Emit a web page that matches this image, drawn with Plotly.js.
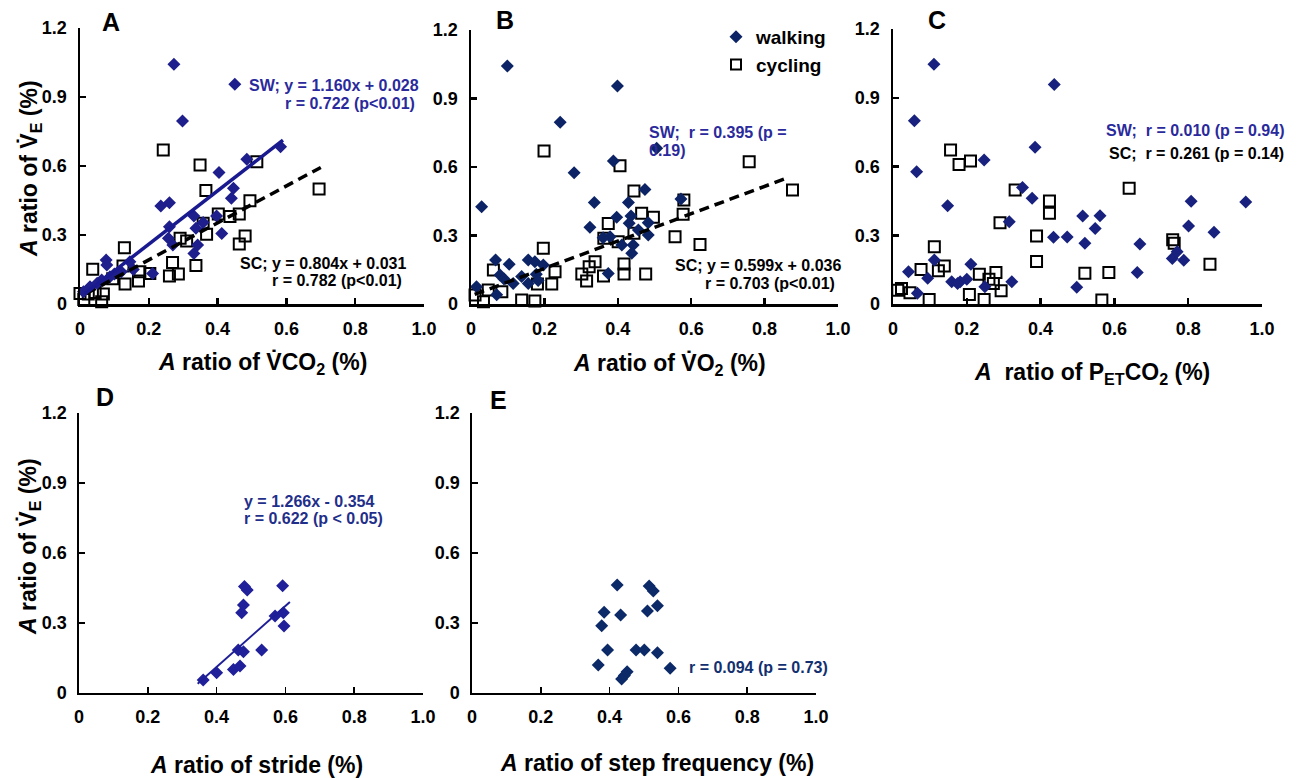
<!DOCTYPE html>
<html>
<head>
<meta charset="utf-8">
<script src="https://cdn.plot.ly/plotly-3.0.1.min.js"></script>
<style>html,body{margin:0;padding:0;background:#fff;}#chart{width:1302px;height:778px;}</style>
</head>
<body>
<div id="chart"></div>
<script>
// ---------- DATA ----------
const xTickVals = [0, 0.2, 0.4, 0.6, 0.8, 1.0];
const xTickText = ["0", "0.2", "0.4", "0.6", "0.8", "1.0"];
const yTickVals = [0, 0.3, 0.6, 0.9, 1.2];
const yTickText = ["0", "0.3", "0.6", "0.9", "1.2"];

// Panel A: A ratio of VCO2 vs A ratio of VE
const aWalkX = [0.273,0.298,0.45,0.583,0.485,0.404,0.446,0.44,0.235,0.26,0.26,0.257,0.27,0.331,0.337,0.342,0.331,0.397,0.412,0.358,0.076,0.078,0.145,0.155,0.211,0.063,0.087,0.029,0.01,0.1,0.12,0.05];
const aWalkY = [1.042,0.796,0.955,0.684,0.629,0.572,0.503,0.46,0.426,0.44,0.336,0.286,0.256,0.383,0.329,0.257,0.22,0.383,0.307,0.354,0.191,0.17,0.184,0.15,0.133,0.104,0.118,0.075,0.053,0.13,0.14,0.09];
const aCycX = [0.242,0.349,0.366,0.514,0.494,0.463,0.436,0.402,0.358,0.368,0.48,0.463,0.291,0.31,0.337,0.269,0.26,0.286,0.129,0.037,0.125,0.174,0.17,0.131,0.203,0.095,0.0,0.024,0.068,0.063,0.011,0.044,0.695];
const aCycY = [0.67,0.604,0.493,0.619,0.449,0.391,0.38,0.391,0.351,0.303,0.296,0.261,0.286,0.274,0.167,0.18,0.122,0.13,0.245,0.151,0.165,0.14,0.1,0.087,0.133,0.11,0.046,0.044,0.043,0.01,0.02,0.05,0.5];
const aFitSW = {slope: 1.160, intercept: 0.028, xFrom: 0.015, xTo: 0.59};
const aFitSC = {slope: 0.804, intercept: 0.031, xFrom: 0.02, xTo: 0.70};

// Panel B: A ratio of VO2
const bWalkX = [0.099,0.399,0.243,0.281,0.388,0.506,0.029,0.336,0.429,0.474,0.572,0.324,0.397,0.436,0.431,0.483,0.483,0.456,0.379,0.411,0.442,0.438,0.374,0.36,0.067,0.104,0.156,0.174,0.197,0.079,0.09,0.115,0.138,0.156,0.178,0.183,0.015,0.07];
const bWalkY = [1.042,0.955,0.796,0.575,0.626,0.682,0.426,0.444,0.445,0.502,0.46,0.336,0.38,0.385,0.354,0.356,0.302,0.324,0.295,0.258,0.258,0.222,0.134,0.29,0.193,0.174,0.193,0.185,0.171,0.127,0.11,0.09,0.12,0.09,0.13,0.103,0.076,0.04];
const bCycX = [0.199,0.406,0.758,0.876,0.444,0.58,0.578,0.465,0.497,0.374,0.444,0.556,0.624,0.362,0.401,0.197,0.338,0.322,0.302,0.315,0.361,0.417,0.417,0.476,0.061,0.229,0.22,0.138,0.174,0.181,0.011,0.034,0.047,0.084];
const bCycY = [0.67,0.606,0.623,0.499,0.495,0.455,0.393,0.397,0.38,0.353,0.31,0.295,0.261,0.288,0.273,0.244,0.185,0.163,0.131,0.101,0.123,0.175,0.131,0.131,0.149,0.141,0.088,0.018,0.013,0.088,0.039,0.01,0.061,0.054];
const bFitSC = {slope: 0.599, intercept: 0.036, xFrom: 0.01, xTo: 0.865};

// Panel C: A ratio of PETCO2
const cWalkX = [0.111,0.437,0.058,0.385,0.064,0.247,0.148,0.351,0.377,0.315,0.435,0.472,0.514,0.52,0.561,0.548,0.669,0.662,0.498,0.808,0.956,0.801,0.87,0.757,0.77,0.788,0.042,0.066,0.094,0.112,0.159,0.182,0.2,0.211,0.249,0.322,0.175];
const cWalkY = [1.046,0.958,0.8,0.684,0.577,0.628,0.429,0.508,0.461,0.359,0.291,0.292,0.384,0.265,0.385,0.329,0.262,0.138,0.073,0.448,0.445,0.34,0.313,0.199,0.228,0.191,0.141,0.047,0.112,0.192,0.097,0.097,0.108,0.173,0.075,0.097,0.09];
const cCycX = [0.156,0.179,0.21,0.331,0.424,0.424,0.29,0.389,0.389,0.112,0.076,0.139,0.123,0.023,0.046,0.013,0.098,0.207,0.234,0.247,0.279,0.26,0.272,0.293,0.64,0.758,0.762,0.859,0.52,0.585,0.566];
const cCycY = [0.672,0.609,0.624,0.497,0.449,0.396,0.355,0.297,0.185,0.25,0.151,0.166,0.145,0.068,0.049,0.06,0.02,0.042,0.13,0.02,0.137,0.108,0.09,0.058,0.505,0.28,0.265,0.173,0.134,0.137,0.017];

// Panel D: A ratio of stride (walking only)
const dWalkX = [0.481,0.489,0.592,0.478,0.473,0.57,0.594,0.596,0.463,0.478,0.531,0.449,0.468,0.4,0.361];
const dWalkY = [0.456,0.441,0.46,0.377,0.344,0.33,0.344,0.287,0.184,0.177,0.184,0.101,0.116,0.087,0.056];
const dFitX = [0.345, 0.613];
const dFitY = [0.04, 0.39];

// Panel E: A ratio of step frequency (walking only)
const eWalkX = [0.422,0.515,0.527,0.384,0.432,0.51,0.539,0.377,0.394,0.477,0.501,0.539,0.367,0.576,0.451,0.435,0.443];
const eWalkY = [0.463,0.459,0.437,0.346,0.334,0.351,0.374,0.288,0.184,0.184,0.184,0.173,0.12,0.106,0.091,0.06,0.075];

// ---------- STYLE ----------
const F = "Liberation Sans, Arial, Helvetica, sans-serif";
const W = 1302, H = 778;
const px = v => v / W;
const py = v => 1 - v / H;
const blueA = "#1e1e8c";
const navy = "#0c2466";
const blueC = "#18227e";
const blueD = "#20209a";
const navyE = "#0c2a68";
const txtBlue = "#2a2a9c";

function fitLine(f) {
  const xs = [f.xFrom, f.xTo];
  return {x: xs, y: xs.map(v => f.slope * v + f.intercept)};
}
function walk(x, y, xa, ya, color, size) {
  return {type: "scatter", mode: "markers", x: x, y: y, xaxis: xa, yaxis: ya,
    name: "walking", showlegend: false, cliponaxis: false,
    marker: {symbol: "diamond", size: size, color: color, line: {width: 0}}};
}
function cyc(x, y, xa, ya) {
  return {type: "scatter", mode: "markers", x: x, y: y, xaxis: xa, yaxis: ya,
    name: "cycling", showlegend: false, cliponaxis: false,
    marker: {symbol: "square-open", size: 11, color: "black", line: {width: 2, color: "black"}}};
}

const lA1 = fitLine(aFitSW), lA2 = fitLine(aFitSC), lB = fitLine(bFitSC);

const data = [
  // A
  cyc(aCycX, aCycY, "x", "y"),
  walk(aWalkX, aWalkY, "x", "y", blueA, 10),
  {type: "scatter", mode: "lines", x: lA2.x, y: lA2.y, xaxis: "x", yaxis: "y", showlegend: false,
   line: {color: "black", width: 3.5, dash: "10px,6px"}},
  {type: "scatter", mode: "lines", x: lA1.x, y: lA1.y, xaxis: "x", yaxis: "y", showlegend: false,
   line: {color: "#1a1a90", width: 3.5}},
  // B
  cyc(bCycX, bCycY, "x2", "y2"),
  walk(bWalkX, bWalkY, "x2", "y2", navy, 10),
  {type: "scatter", mode: "lines", x: lB.x, y: lB.y, xaxis: "x2", yaxis: "y2", showlegend: false,
   line: {color: "black", width: 3.5, dash: "10px,6px"}},
  // C
  cyc(cCycX, cCycY, "x3", "y3"),
  walk(cWalkX, cWalkY, "x3", "y3", blueC, 10),
  // D
  walk(dWalkX, dWalkY, "x4", "y4", blueD, 10),
  {type: "scatter", mode: "lines", x: dFitX, y: dFitY, xaxis: "x4", yaxis: "y4", showlegend: false,
   line: {color: "#1e1e96", width: 2}},
  // E
  walk(eWalkX, eWalkY, "x5", "y5", navyE, 10),
  // legend entries (drawn in panel B area)
  {type: "scatter", mode: "markers", x: [null], y: [null], xaxis: "x2", yaxis: "y2", name: "walking",
   showlegend: true, marker: {symbol: "diamond", size: 10, color: navy}},
  {type: "scatter", mode: "markers", x: [null], y: [null], xaxis: "x2", yaxis: "y2", name: "cycling",
   showlegend: true, marker: {symbol: "square-open", size: 10, color: "black", line: {width: 2, color: "black"}}}
];

function xax(d0, d1, lw, anchor) {
  return {domain: [px(d0), px(d1)], range: [0, 1], anchor: anchor, tickmode: "array",
    tickvals: xTickVals, ticktext: xTickText, showline: true, linewidth: lw, linecolor: "black",
    ticks: "inside", ticklen: 6, tickwidth: lw, tickcolor: "black", showgrid: false, zeroline: false,
    ticklabelstandoff: 7, fixedrange: true,
    tickfont: {family: F, size: 18, weight: "bold", color: "black"}};
}
function yax(top, bottom, lw, anchor) {
  return {domain: [py(bottom), py(top)], range: [0, 1.2], anchor: anchor, tickmode: "array",
    tickvals: yTickVals, ticktext: yTickText, showline: true, linewidth: lw, linecolor: "black",
    ticks: "inside", ticklen: 6, tickwidth: lw, tickcolor: "black", showgrid: false, zeroline: false,
    ticklabelstandoff: 7, fixedrange: true,
    tickfont: {family: F, size: 18, weight: "bold", color: "black"}};
}

function ann(text, x, y, opts) {
  return Object.assign({xref: "paper", yref: "paper", x: px(x), y: py(y), text: text, showarrow: false,
    xanchor: "left", yanchor: "middle",
    font: {family: F, size: 16, weight: "bold", color: "black"}}, opts || {});
}
const bigFont = {family: F, size: 23, weight: "bold", color: "black"};
const letterFont = {family: F, size: 25, weight: "bold", color: "black"};
const blueFont = {family: F, size: 16, weight: "bold", color: txtBlue};

const annotations = [
  // panel letters
  ann("A", 100, 22, {font: letterFont}),
  ann("B", 494, 20, {font: letterFont}),
  ann("C", 926, 20, {font: letterFont}),
  ann("D", 94, 397, {font: letterFont}),
  ann("E", 488, 400, {font: letterFont}),
  // axis titles
  ann("<i>A</i> ratio of V\u0307CO<sub>2</sub> (%)", 262, 363, {xanchor: "center", font: bigFont}),
  ann("<i>A</i> ratio of V\u0307O<sub>2</sub> (%)", 670, 365, {xanchor: "center", font: bigFont}),
  ann("<i>A</i>  ratio of P<sub>ET</sub>CO<sub>2</sub> (%)", 1092, 373, {xanchor: "center", font: bigFont}),
  ann("<i>A</i> ratio of stride (%)", 256, 765, {xanchor: "center", font: bigFont}),
  ann("<i>A</i> ratio of step frequency (%)", 657, 763, {xanchor: "center", font: bigFont}),
  ann("<i>A</i> ratio of V\u0307<sub>E</sub> (%)", 31, 169, {xanchor: "center", textangle: -90, font: bigFont}),
  ann("<i>A</i> ratio of V\u0307<sub>E</sub> (%)", 29, 547, {xanchor: "center", textangle: -90, font: bigFont}),
  // regression texts
  ann("SW; y = 1.160x + 0.028", 421, 86, {xanchor: "right", font: blueFont}),
  ann("r = 0.722 (p<0.01)", 417, 104, {xanchor: "right", font: blueFont}),
  ann("SC; y = 0.804x + 0.031", 408, 263, {xanchor: "right"}),
  ann("r = 0.782 (p<0.01)", 404, 281, {xanchor: "right"}),
  ann("SW;  r = 0.395 (p =", 647, 133, {font: blueFont}),
  ann("0.19)", 647, 151, {font: blueFont}),
  ann("SC; y = 0.599x + 0.036", 843, 265, {xanchor: "right"}),
  ann("r = 0.703 (p<0.01)", 837, 283, {xanchor: "right"}),
  ann("SW;  r = 0.010 (p = 0.94)", 1286, 131, {xanchor: "right", font: blueFont}),
  ann("SC;  r = 0.261 (p = 0.14)", 1286, 153, {xanchor: "right"}),
  ann("y = 1.266x - 0.354", 242, 501, {font: {family: F, size: 16, weight: "bold", color: "#1f2f8a"}}),
  ann("r = 0.622 (p < 0.05)", 242, 518, {font: {family: F, size: 16, weight: "bold", color: "#1f2f8a"}}),
  ann("r = 0.094 (p = 0.73)", 687, 667, {font: {family: F, size: 16, weight: "bold", color: "#123070"}})
];

const layout = {
  width: W, height: H, autosize: false,
  margin: {l: 0, r: 0, t: 0, b: 0, pad: 0},
  paper_bgcolor: "white", plot_bgcolor: "white",
  showlegend: true,
  legend: {x: px(716), y: py(18), xanchor: "left", yanchor: "top", bgcolor: "rgba(0,0,0,0)",
    font: {family: F, size: 19, weight: "bold", color: "black"}, tracegroupgap: 0, itemwidth: 30},
  xaxis: xax(80, 424, 2.5, "y"),
  yaxis: yax(28, 304, 2.5, "x"),
  xaxis2: xax(471, 838, 2.5, "y2"),
  yaxis2: yax(30, 304, 2.5, "x2"),
  xaxis3: xax(893, 1262, 2.5, "y3"),
  yaxis3: yax(29, 304, 2.5, "x3"),
  xaxis4: xax(79, 423, 1.6, "y4"),
  yaxis4: yax(413, 693, 1.6, "x4"),
  xaxis5: xax(472, 816, 1.6, "y5"),
  yaxis5: yax(413, 693, 1.6, "x5"),
  annotations: annotations
};

Plotly.newPlot("chart", data, layout, {staticPlot: true, displayModeBar: false});
</script>
</body>
</html>
